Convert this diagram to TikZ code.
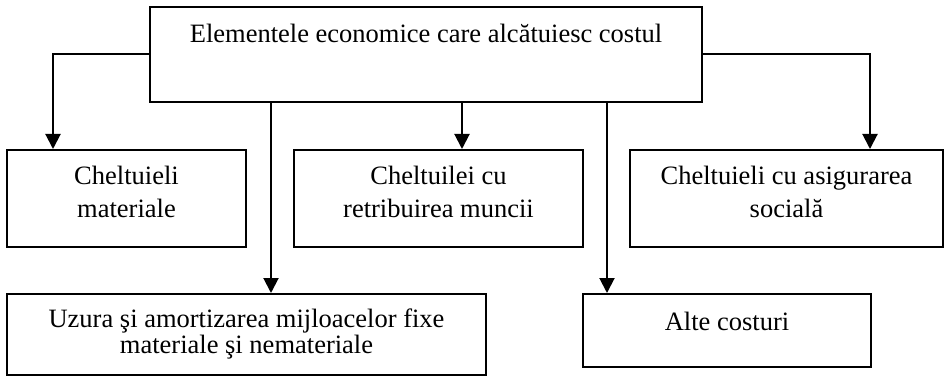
\documentclass[tikz,border=0pt]{standalone}
\usepackage{fontspec}
\setmainfont{Liberation Serif}
\usetikzlibrary{arrows.meta}
\begin{document}
\begin{tikzpicture}[x=1pt,y=-1pt,line width=2pt,
	caseta/.style={draw,inner sep=0pt},
	txt/.style={anchor=base,align=center,inner sep=0pt,font=\fontsize{26.5}{33}\selectfont},
	sageata/.style={-{Triangle[width=15pt,length=15pt]}}]
	\useasboundingbox (0,0) rectangle (948,377);
	% casetele
	\node[caseta,minimum width=552,minimum height=95] (elem) at (426,54.5) {};
	\node[caseta,minimum width=239,minimum height=97] (mat) at (126.5,198.5) {};
	\node[caseta,minimum width=289,minimum height=97] (munca) at (438.5,198.5) {};
	\node[caseta,minimum width=313,minimum height=97] (soc) at (786.5,198.5) {};
	\node[caseta,minimum width=479,minimum height=81] (uzura) at (246.5,334.5) {};
	\node[caseta,minimum width=288,minimum height=73] (alte) at (727,330.5) {};
	% textele (ancora pe ultimul rand)
	\node[txt] (telem) at (426,43) {Elementele economice care alcătuiesc costul};
	\node[txt] (tmat) at (126.5,217) {Cheltuieli\\materiale};
	\node[txt] (tmunca) at (438.5,217) {Cheltuilei cu\\retribuirea muncii};
	\node[txt] (tsoc) at (786.5,217) {Cheltuieli cu asigurarea\\socială};
	\node[txt,font=\fontsize{26.5}{21}\selectfont] (tuzura) at (246.5,353) {Uzura şi amortizarea mijloacelor fixe\\materiale şi nemateriale};
	\node[txt] (talte) at (727,330) {Alte costuri};
	% sagetile
	\draw[sageata] (elem.west) -| ([xshift=47]mat.north west);
	\draw[sageata] (elem.east) -| ([xshift=241]soc.north west);
	\draw[sageata] (462,0 |- elem.south) -- (462,0 |- munca.north);
	\draw[sageata] (271,0 |- elem.south) -- (271,0 |- uzura.north);
	\draw[sageata] (607,0 |- elem.south) -- (607,0 |- alte.north);
\end{tikzpicture}
\end{document}
